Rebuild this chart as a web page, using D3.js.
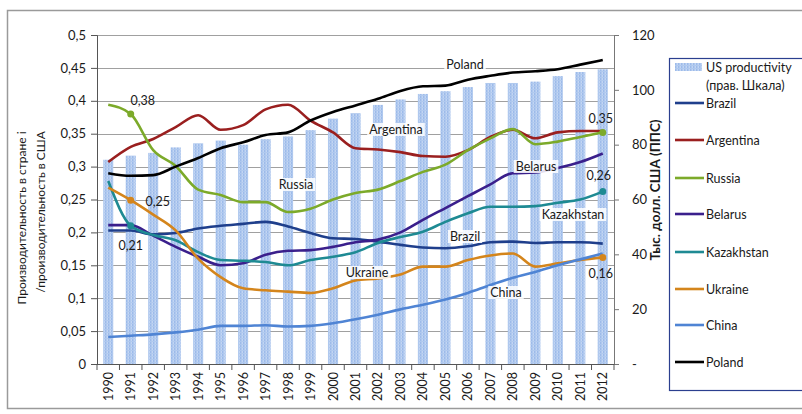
<!DOCTYPE html>
<html><head><meta charset="utf-8">
<script src="https://cdn.jsdelivr.net/npm/d3@7"></script>
<style>body{margin:0;background:#fff}svg{display:block}text{font-family:Lato,"Open Sans",sans-serif}</style>
</head><body><div id="c"></div>
<script>
const years = d3.range(1990, 2013).map(String);
const usProductivity = [74.5,76,77,79,80.5,81.5,80,82,83,85.3,89.5,91.5,94.5,96.5,98.5,99.5,101,102.5,102.5,103,105,106.5,107.5];
const brazil     = [0.203,0.203,0.197,0.199,0.206,0.210,0.213,0.216,0.209,0.199,0.191,0.190,0.186,0.181,0.177,0.176,0.179,0.185,0.186,0.184,0.185,0.185,0.183];
const argentina  = [0.307,0.330,0.342,0.360,0.378,0.356,0.363,0.387,0.394,0.370,0.352,0.328,0.326,0.322,0.316,0.315,0.325,0.345,0.356,0.343,0.352,0.354,0.354];
const russia     = [0.394,0.380,0.325,0.301,0.265,0.257,0.246,0.246,0.231,0.236,0.250,0.260,0.265,0.278,0.292,0.303,0.325,0.343,0.357,0.334,0.338,0.345,0.352];
const belarus    = [0.211,0.211,0.195,0.178,0.163,0.150,0.153,0.166,0.172,0.173,0.178,0.185,0.189,0.200,0.219,0.237,0.255,0.273,0.290,0.291,0.298,0.307,0.320];
const kazakhstan = [0.278,0.210,0.196,0.188,0.170,0.158,0.157,0.155,0.150,0.158,0.163,0.170,0.184,0.193,0.201,0.216,0.229,0.239,0.239,0.240,0.245,0.250,0.262];
const ukraine    = [0.268,0.249,0.227,0.203,0.160,0.132,0.115,0.112,0.110,0.108,0.115,0.127,0.130,0.136,0.148,0.148,0.158,0.165,0.168,0.148,0.153,0.158,0.162];
const china      = [0.041,0.043,0.045,0.048,0.052,0.058,0.058,0.059,0.057,0.058,0.062,0.068,0.075,0.083,0.090,0.098,0.108,0.120,0.131,0.140,0.150,0.159,0.168];
const poland     = [0.290,0.286,0.287,0.300,0.313,0.328,0.337,0.348,0.352,0.370,0.383,0.393,0.403,0.415,0.422,0.423,0.432,0.438,0.443,0.445,0.448,0.455,0.462];
const leftTicks = [0,0.05,0.1,0.15,0.2,0.25,0.3,0.35,0.4,0.45,0.5];
const rightTicks = [0,20,40,60,80,100,120];

const series = [
  {name:"Brazil", values:brazil, color:"#1f3f8c"},
  {name:"Argentina", values:argentina, color:"#9a1f1f"},
  {name:"Russia", values:russia, color:"#7caa2a"},
  {name:"Belarus", values:belarus, color:"#3a1f8c"},
  {name:"Kazakhstan", values:kazakhstan, color:"#1e8a93"},
  {name:"Ukraine", values:ukraine, color:"#d4851c"},
  {name:"China", values:china, color:"#4f84d4"},
  {name:"Poland", values:poland, color:"#000000"}
];

const W = 802, H = 414;
const svg = d3.select("#c").append("svg").attr("width", W).attr("height", H);
const defs = svg.append("defs");
const pat = defs.append("pattern").attr("id","dots").attr("patternUnits","userSpaceOnUse").attr("width",3).attr("height",3);
pat.append("rect").attr("width",3).attr("height",3).attr("fill","#c2d5f3");
pat.append("rect").attr("width",1.5).attr("height",3).attr("fill","#9dbbea");
pat.append("rect").attr("width",3).attr("height",1).attr("y",2).attr("fill","#b0c9ee");

// outer frame
svg.append("rect").attr("x",7.5).attr("y",10.5).attr("width",800).attr("height",398).attr("fill","none").attr("stroke","#9a9a9a").attr("stroke-width",1.5);

const x0 = 97, x1 = 614, yTop = 35, yBot = 364;
const x = d3.scaleBand().domain(years).range([x0, x1]).paddingInner(0.55).paddingOuter(0.275);
const xc = d => x(d) + x.bandwidth()/2;
const yL = d3.scaleLinear().domain([0,0.5]).range([yBot, yTop]);
const yR = d3.scaleLinear().domain([0,120]).range([yBot, yTop]);

// gridlines
svg.append("g").selectAll("line").data(leftTicks.filter(d=>d>0)).join("line")
  .attr("x1",x0).attr("x2",x1).attr("y1",d=>Math.round(yL(d))+0.5).attr("y2",d=>Math.round(yL(d))+0.5)
  .attr("stroke","#a0a0a0").attr("stroke-width",1);

// bars
svg.append("g").selectAll("rect").data(years).join("rect")
  .attr("x", d=>x(d)).attr("width", x.bandwidth())
  .attr("y", (d,i)=>yR(usProductivity[i])).attr("height",(d,i)=>yBot - yR(usProductivity[i]))
  .attr("fill","url(#dots)");

const seriesLabels = [
  {t:"Poland", x:465, y:69},
  {t:"Argentina", x:396, y:134},
  {t:"Russia", x:296, y:189},
  {t:"Belarus", x:536, y:171},
  {t:"Kazakhstan", x:573, y:219},
  {t:"Brazil", x:465, y:241},
  {t:"Ukraine", x:367, y:277},
  {t:"China", x:506, y:297}
];

// axes
const axL = svg.append("g").attr("transform",`translate(${x0},0)`)
  .call(d3.axisLeft(yL).tickValues(leftTicks).tickSize(6).tickFormat(d=>d3.format("")(d).replace(".",",")));
axL.select(".domain").attr("stroke","#555");
axL.selectAll(".tick line").attr("stroke","#555");
axL.selectAll("text").attr("font-size",13).attr("fill","#1a1a1a").attr("x",-11);

const axR = svg.append("g").attr("transform",`translate(${x1},0)`)
  .call(d3.axisRight(yR).tickValues(rightTicks).tickSize(5).tickFormat(d=>d===0?"-":d));
axR.select(".domain").attr("stroke","#777");
axR.selectAll(".tick line").attr("stroke","#777");
axR.selectAll("text").attr("font-size",13).attr("fill","#1a1a1a").attr("x",18);

// x axis
const xAxisG = svg.append("g").attr("transform",`translate(0,${yBot})`);
xAxisG.append("line").attr("x1",x0).attr("x2",x1).attr("y1",0.5).attr("y2",0.5).attr("stroke","#555");
const step = (x1-x0)/years.length;
xAxisG.selectAll("line.tk").data(d3.range(years.length+1)).join("line").attr("class","tk")
  .attr("x1",i=>x0+i*step).attr("x2",i=>x0+i*step).attr("y1",0).attr("y2",6).attr("stroke","#555");
xAxisG.selectAll("text").data(years).join("text")
  .attr("transform",d=>`translate(${xc(d)+4.5},8) rotate(-90)`)
  .attr("text-anchor","end").attr("font-size",12.5).attr("fill","#1a1a1a").text(d=>d);

// lines
const line = d3.line().x((d,i)=>xc(years[i])).y(d=>yL(d)).curve(d3.curveMonotoneX);
svg.append("g").selectAll("path").data(series).join("path")
  .attr("d", s=>line(s.values)).attr("fill","none").attr("stroke",s=>s.color).attr("stroke-width",2.6)
  .attr("stroke-linejoin","round");

// markers
const markers = [
  {s:2, i:1}, {s:5, i:1}, {s:4, i:1}, {s:2, i:22}, {s:4, i:22}, {s:5, i:22}
];
svg.append("g").selectAll("circle").data(markers).join("circle")
  .attr("cx",m=>xc(years[m.i])).attr("cy",m=>yL(series[m.s].values[m.i])).attr("r",3.5)
  .attr("fill",m=>series[m.s].color);

// series labels
const lg = svg.append("g");
seriesLabels.forEach(l=>{
  const t = lg.append("text").attr("x",l.x).attr("y",l.y).attr("text-anchor","middle")
    .attr("font-size",12.5).attr("fill","#1a1a1a").text(l.t);
  const b = t.node().getBBox();
  lg.insert("rect","text").attr("x",b.x-2).attr("y",b.y+1).attr("width",b.width+4).attr("height",b.height-2).attr("fill","#fff").attr("opacity",0.85);
});

// value labels
const valLabels = [
  {s:2, i:1, dx:12, dy:-9, t:"0,38"},
  {s:5, i:1, dx:27, dy:6, t:"0,25"},
  {s:4, i:1, dx:0, dy:24, t:"0,21"},
  {s:1, i:22, dx:-2, dy:-8, t:"0,35"},
  {s:4, i:22, dx:-4, dy:-12, t:"0,26"},
  {s:5, i:22, dx:-2, dy:21, t:"0,16"}
];
svg.append("g").selectAll("text").data(valLabels).join("text")
  .attr("x",v=>xc(years[v.i])+v.dx).attr("y",v=>yL(series[v.s].values[v.i])+v.dy)
  .attr("text-anchor","middle").attr("font-size",12.5).attr("fill","#1a1a1a")
  .text(v=>v.t);

// left title
const lt = svg.append("g").attr("font-size",12).attr("fill","#1a1a1a");
lt.append("text").attr("transform","translate(26,218) rotate(-90)").attr("text-anchor","middle").text("Производительность в стране i");
lt.append("text").attr("transform","translate(45,212) rotate(-90)").attr("text-anchor","middle").text("/производительность в США");

// right title
svg.append("text").attr("transform","translate(660,190) rotate(-90)").attr("text-anchor","middle")
  .attr("font-size",13.5).attr("font-weight","bold").attr("fill","#1a1a1a").text("Тыс. долл. США (ППС)");

// legend
const L = svg.append("g");
L.append("rect").attr("x",669.5).attr("y",58.5).attr("width",140).attr("height",332).attr("fill","#fff").attr("stroke","#2b3f8f").attr("stroke-width",1.2);
L.append("rect").attr("x",675).attr("y",63).attr("width",27).attr("height",8).attr("fill","url(#dots)");
L.append("text").attr("x",706).attr("y",72).attr("font-size",12.5).attr("fill","#1a1a1a").text("US productivity");
L.append("text").attr("x",706).attr("y",90).attr("font-size",12.5).attr("fill","#1a1a1a").text("(прав. Шкала)");
const legY = [103,140,178,214,252,289,325,362];
series.forEach((s,i)=>{
  L.append("line").attr("x1",675).attr("x2",704).attr("y1",legY[i]).attr("y2",legY[i]).attr("stroke",s.color).attr("stroke-width",2.6);
  L.append("text").attr("x",706).attr("y",legY[i]+4.5).attr("font-size",12.5).attr("fill","#1a1a1a").text(s.name);
});
</script></body></html>
